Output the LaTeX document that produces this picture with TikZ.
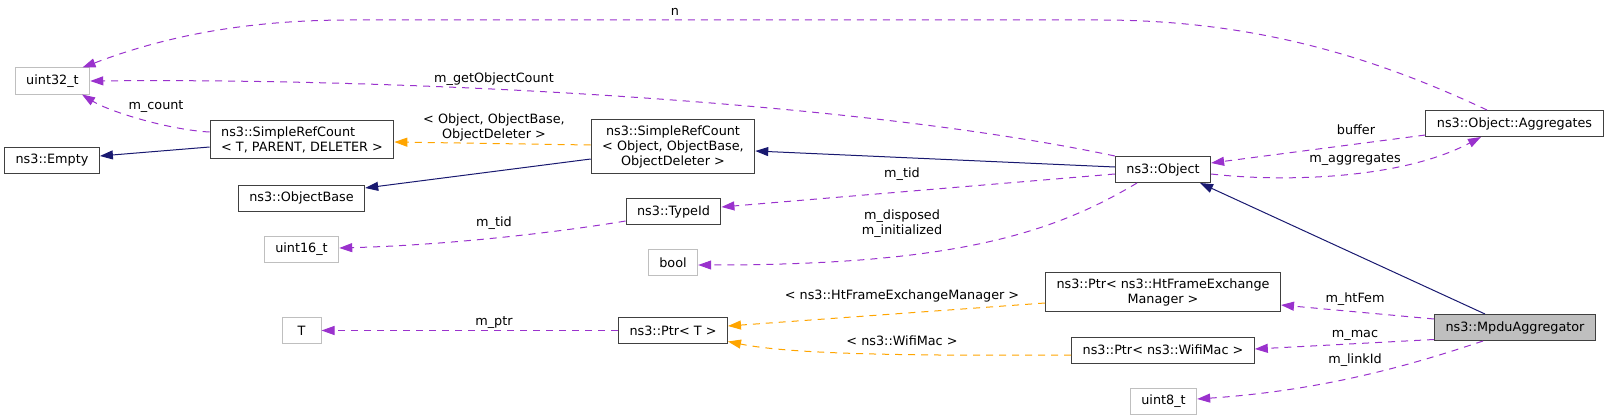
\documentclass[tikz,border=0pt]{standalone}
\usepackage{fontspec}
\setmainfont{DejaVu Sans}
\definecolor{DoxNavy}{HTML}{191970}
\definecolor{DoxPurple}{HTML}{9A32CD}
\definecolor{DoxOrange}{HTML}{FFA500}
\definecolor{DoxGrey}{HTML}{BFBFBF}
\definecolor{DoxBorder}{HTML}{404040}
\usetikzlibrary{arrows.meta}

\begin{document}
\begin{tikzpicture}[
        x=1pt, y=-1pt,
        box/.style={draw=DoxBorder, fill=white, line width=1pt, inner xsep=11pt, inner ysep=6pt, minimum height=26pt, minimum width=39pt, font=\fontsize{12.8}{15}\selectfont},
        extbox/.style={box, draw=DoxGrey},
        curbox/.style={box, fill=DoxGrey},
        lbl/.style={inner sep=0pt, font=\fontsize{12.8}{15}\selectfont, align=center},
        tip/.style={-{Triangle[length=13pt, width=9pt]}, line width=1pt},
        inh/.style={tip, DoxNavy},
        usage/.style={tip, DoxPurple, dash pattern=on 7pt off 6pt},
        tmpl/.style={tip, DoxOrange, dash pattern=on 7pt off 6pt}
    ]
        \useasboundingbox (0,0) rectangle (1609,420);

        \node[extbox] (u32) at (52.5,81) {uint32\_t};
        \node[box] (empty) at (52,160) {ns3::Empty};
        \node[box, align=left] (srcT) at (302,139.5) {ns3::SimpleRefCount\\< T, PARENT, DELETER >};
        \node[box] (objbase) at (301.5,198) {ns3::ObjectBase};
        \node[extbox] (u16) at (301.5,249) {uint16\_t};
        \node[extbox] (tT) at (301.5,330.5) {T};
        \node[box, align=center] (srcObj) at (673,146.5) {ns3::SimpleRefCount\\< Object, ObjectBase,\\ObjectDeleter >};
        \node[box] (typeid) at (673.5,211.5) {ns3::TypeId};
        \node[extbox] (bool) at (673,262.5) {bool};
        \node[box] (ptrT) at (673,330.5) {ns3::Ptr< T >};
        \node[box] (object) at (1163,169.5) {ns3::Object};
        \node[box, align=center] (ptrHt) at (1163,292) {ns3::Ptr< ns3::HtFrameExchange\\Manager >};
        \node[box] (ptrMac) at (1163,350) {ns3::Ptr< ns3::WifiMac >};
        \node[extbox] (u8) at (1163.5,401) {uint8\_t};
        \node[box] (aggr) at (1514.5,123.5) {ns3::Object::Aggregates};
        \node[curbox] (mpdu) at (1515,327.5) {ns3::MpduAggregator};

        \draw[inh] ([yshift=2.5pt]object.west) -- ([yshift=-4.5pt]srcObj.east);
        \draw[tmpl] ([yshift=1.5pt]srcObj.west) -- ([yshift=-2.5pt]srcT.east);
        \draw[inh] ([yshift=-12.5pt]srcObj.west) -- ([yshift=10pt]objbase.east);
        \draw[inh] ([yshift=-7.5pt]srcT.west) -- ([yshift=4pt]empty.east);
        \draw[usage] ([yshift=7.5pt]srcT.west) .. controls (170,130) and (110,112) .. ([xshift=29.5pt]u32.south);
        \draw[usage] (object.north west) .. controls (850,100) and (400,78) .. (u32.east);
        \draw[usage] ([xshift=-27.5pt]aggr.north) .. controls (1380,60) and (1260,20) .. (1100,20)
            -- (350,20) .. controls (230,20) and (150,42) .. ([xshift=30pt]u32.north);
        \draw[usage] ([yshift=-11.5pt]aggr.west) -- ([yshift=6.5pt]object.east);
        \draw[usage] ([yshift=-4.5pt]object.east) .. controls (1280,182) and (1400,180) .. ([xshift=-33.5pt]aggr.south);
        \draw[inh] ([xshift=-30pt]mpdu.north) -- ([xshift=37pt]object.south);
        \draw[usage] ([yshift=-4.5pt]object.west) -- ([yshift=4.5pt]typeid.east);
        \draw[usage] ([yshift=-9.5pt]typeid.west) .. controls (560,232) and (450,245) .. ([yshift=1pt]u16.east);
        \draw[usage] ([xshift=-26pt]object.south) .. controls (1050,235) and (950,265) .. ([yshift=-2.5pt]bool.east);
        \draw[tmpl] ([yshift=-11pt]ptrHt.west) -- ([yshift=4.5pt]ptrT.east);
        \draw[tmpl] ([yshift=-5pt]ptrMac.west) .. controls (900,356) and (790,354) .. ([yshift=-11pt]ptrT.east);
        \draw[usage] (ptrT.west) -- (tT.east);
        \draw[usage] ([yshift=8.5pt]mpdu.west) -- ([yshift=-13pt]ptrHt.east);
        \draw[usage] ([yshift=-12pt]mpdu.west) -- ([yshift=1pt]ptrMac.east);
        \draw[usage] ([xshift=-32pt]mpdu.south) .. controls (1420,362) and (1330,390) .. ([yshift=2pt]u8.east);

        \node[lbl] (lCount) at (156,107) {m\_count};
        \node[lbl] (lGetCount) at (494,79) {m\_getObjectCount};
        \node[lbl] (lSrcArgs) at (494,127) {< Object, ObjectBase,\\ObjectDeleter >};
        \node[lbl] (lN) at (675,12) {n};
        \node[lbl] (lBuffer) at (1356,130) {buffer};
        \node[lbl] (lAggr) at (1355,160) {m\_aggregates};
        \node[lbl] (lTidObj) at (902,174) {m\_tid};
        \node[lbl] (lTidType) at (494,223) {m\_tid};
        \node[lbl] (lBool) at (902,223.5) {m\_disposed\\m\_initialized};
        \node[lbl] (lHtArg) at (902,296) {< ns3::HtFrameExchangeManager >};
        \node[lbl] (lMacArg) at (902,341) {< ns3::WifiMac >};
        \node[lbl] (lPtr) at (494,323) {m\_ptr};
        \node[lbl] (lHtFem) at (1355,299) {m\_htFem};
        \node[lbl] (lMac) at (1355,335) {m\_mac};
        \node[lbl] (lLink) at (1355,360) {m\_linkId};
    \end{tikzpicture}
\end{document}
